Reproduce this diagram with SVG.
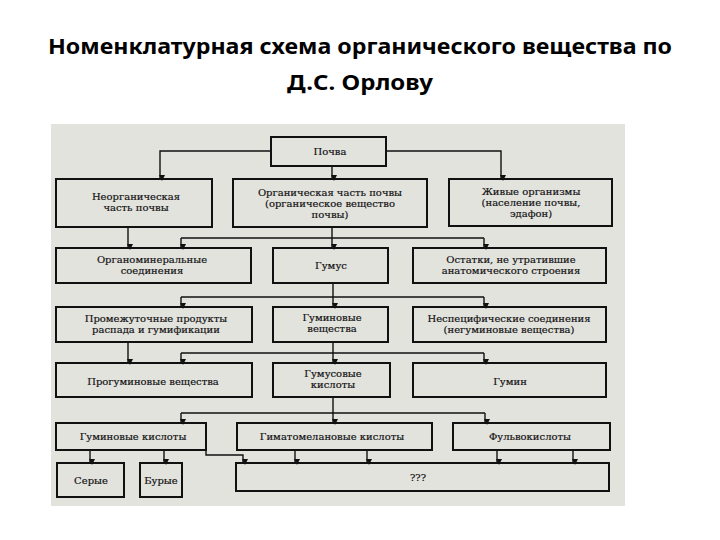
<svg xmlns="http://www.w3.org/2000/svg" width="720" height="540" viewBox="0 0 720 540">
<defs>
<marker id="arr" markerUnits="userSpaceOnUse" markerWidth="6" markerHeight="6" refX="3" refY="5" orient="auto-start-reverse" viewBox="0 0 6 6">
<path d="M0,0 L3,6 L6,0 Z" fill="#111" transform="rotate(-90 3 3)"/>
</marker>
<style>
.title{font-family:"Noto Sans","Liberation Sans",sans-serif;font-weight:bold;font-size:22px;fill:#000;text-anchor:middle}
.box{fill:none;stroke:#111;stroke-width:2}
.t{font-family:"DejaVu Serif","Liberation Serif",serif;font-size:10px;fill:#111;stroke:#111;stroke-width:0.2;text-anchor:middle}
.c{fill:none;stroke:#111;stroke-width:1.4}
.a{marker-end:url(#arr)}
</style>
</defs>
<rect width="720" height="540" fill="#fff"/>
<text class="title" x="360" y="54" textLength="624" lengthAdjust="spacingAndGlyphs">Номенклатурная схема органического вещества по</text>
<text class="title" x="360" y="90" textLength="146" lengthAdjust="spacingAndGlyphs">Д.С. Орлову</text>
<rect x="51" y="124" width="574" height="382" fill="#e3e3de"/>

<g id="connectors">
<path class="c a" d="M271,151 H160 V178"/>
<path class="c a" d="M332,166 V178"/>
<path class="c a" d="M386,151 H501 V178"/>
<path class="c a" d="M128,227 V247"/>
<path class="c a" d="M332,227 V247"/>
<path class="c" d="M181,238 H484"/>
<path class="c a" d="M181,238 V247"/>
<path class="c a" d="M484,238 V247"/>
<path class="c a" d="M333,283 V306"/>
<path class="c" d="M181,297 H484"/>
<path class="c a" d="M181,297 V306"/>
<path class="c a" d="M484,297 V306"/>
<path class="c a" d="M128,342 V362"/>
<path class="c a" d="M333,342 V362"/>
<path class="c" d="M181,353 H484"/>
<path class="c a" d="M181,353 V362"/>
<path class="c a" d="M484,353 V362"/>
<path class="c a" d="M333,397 V422"/>
<path class="c" d="M181,413 H485"/>
<path class="c a" d="M181,413 V422"/>
<path class="c a" d="M485,413 V422"/>
<path class="c a" d="M90,450 V462"/>
<path class="c a" d="M164,450 V462"/>
<path class="c a" d="M206,450 V455 H243 V462"/>
<path class="c a" d="M295,450 V462"/>
<path class="c a" d="M367,450 V462"/>
<path class="c a" d="M497,450 V462"/>
<path class="c a" d="M573,450 V462"/>
</g>

<g id="pochva"><rect class="box" x="271" y="137" width="115" height="29"/><text class="t" x="330" y="155">Почва</text></g>
<g id="neorg"><rect class="box" x="56" y="179" width="156" height="48"/><text class="t" x="136" y="200">Неорганическая</text><text class="t" x="136" y="211">часть почвы</text></g>
<g id="org"><rect class="box" x="233" y="179" width="194" height="48"/><text class="t" x="330" y="196">Органическая часть почвы</text><text class="t" x="330" y="207">(органическое вещество</text><text class="t" x="330" y="218">почвы)</text></g>
<g id="zhivye"><rect class="box" x="449" y="179" width="163" height="47"/><text class="t" x="531" y="195">Живые организмы</text><text class="t" x="531" y="206">(население почвы,</text><text class="t" x="531" y="217">эдафон)</text></g>

<g id="orgmin"><rect class="box" x="56" y="248" width="195" height="35"/><text class="t" x="152" y="263">Органоминеральные</text><text class="t" x="152" y="274">соединения</text></g>
<g id="gumus"><rect class="box" x="273" y="248" width="115" height="35"/><text class="t" x="331" y="269">Гумус</text></g>
<g id="ostatki"><rect class="box" x="413" y="248" width="193" height="35"/><text class="t" x="511" y="263">Остатки, не утратившие</text><text class="t" x="511" y="274">анатомического строения</text></g>

<g id="promezh"><rect class="box" x="56" y="307" width="196" height="35"/><text class="t" x="156" y="322">Промежуточные продукты</text><text class="t" x="156" y="333">распада и гумификации</text></g>
<g id="guminveshch"><rect class="box" x="273" y="307" width="115" height="35"/><text class="t" x="332" y="321">Гуминовые</text><text class="t" x="332" y="332">вещества</text></g>
<g id="nespec"><rect class="box" x="413" y="307" width="193" height="35"/><text class="t" x="509" y="322">Неспецифические соединения</text><text class="t" x="509" y="333">(негуминовые вещества)</text></g>

<g id="progumin"><rect class="box" x="56" y="363" width="196" height="34"/><text class="t" x="153" y="385">Прогуминовые вещества</text></g>
<g id="gumuskisl"><rect class="box" x="273" y="363" width="117" height="34"/><text class="t" x="333" y="377">Гумусовые</text><text class="t" x="333" y="388">кислоты</text></g>
<g id="gumin"><rect class="box" x="413" y="363" width="193" height="34"/><text class="t" x="510" y="385">Гумин</text></g>

<g id="guminkisl"><rect class="box" x="56" y="423" width="150" height="27"/><text class="t" x="133" y="440">Гуминовые кислоты</text></g>
<g id="gimato"><rect class="box" x="237" y="423" width="195" height="27"/><text class="t" x="332" y="440">Гиматомелановые кислоты</text></g>
<g id="fulvo"><rect class="box" x="453" y="423" width="157" height="27"/><text class="t" x="530" y="440">Фульвокислоты</text></g>

<g id="serye"><rect class="box" x="57" y="463" width="67" height="34"/><text class="t" x="91" y="484">Серые</text></g>
<g id="burye"><rect class="box" x="140" y="463" width="42" height="34"/><text class="t" x="161" y="484">Бурые</text></g>
<g id="unknown"><rect class="box" x="236" y="463" width="373" height="28"/><text class="t" x="418" y="481">???</text></g>
</svg>
